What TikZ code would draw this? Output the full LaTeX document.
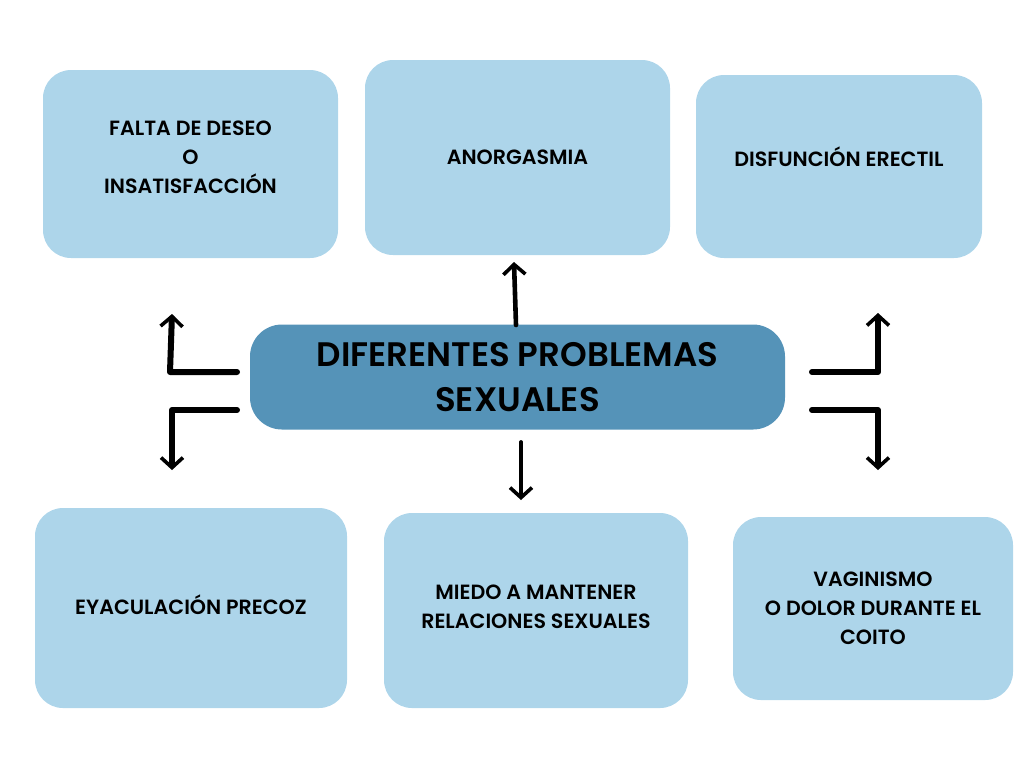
\documentclass[tikz,border=0pt]{standalone}
\usepackage{fontspec}
\IfFontExistsTF{Poppins SemiBold}{\setmainfont{Poppins SemiBold}}{%
  \IfFontExistsTF{Poppins Medium}{\setmainfont{Poppins Medium}}{\setmainfont{Poppins}}}
\usetikzlibrary{arrows.meta}
\definecolor{boxblue}{HTML}{ADD5EA}
\definecolor{midblue}{HTML}{5593B8}
\tikzset{
    smallbox/.style={rectangle, rounded corners=14pt, fill=boxblue, align=center,
        font=\fontsize{10.3}{14.5}\selectfont, inner sep=0pt},
    bigbox/.style={rectangle, rounded corners=16pt, fill=midblue, align=center,
        font=\fontsize{17}{22.5}\selectfont, inner sep=0pt,
        minimum width=267.5pt, minimum height=52.5pt},
    arr/.style={-{Straight Barb[length=5pt,width=11pt,line width=1.8pt]}, line width=3pt,
        line cap=round, line join=round}
}

\begin{document}
\begin{tikzpicture}[x=0.5pt, y=-0.5pt]

    \useasboundingbox (0,0) rectangle (1024,768);

    % Boxes
    \node[smallbox, minimum width=147.5pt, minimum height=94pt, text depth=7pt] (falta) at (190.5,164) {FALTA DE DESEO\\O\\INSATISFACCIÓN};
    \node[smallbox, minimum width=152.5pt, minimum height=97.5pt] (anorg) at (517.5,157.5) {ANORGASMIA};
    \node[smallbox, minimum width=143pt, minimum height=91.5pt, text depth=9.5pt] (disf) at (839,166.5) {DISFUNCIÓN ERECTIL};
    \node[bigbox] (centro) at (517.5,377) {DIFERENTES PROBLEMAS\\SEXUALES};
    \node[smallbox, minimum width=156pt, minimum height=100pt, text depth=3pt] (eyac) at (191,608) {EYACULACIÓN PRECOZ};
    \node[smallbox, minimum width=152pt, minimum height=97.5pt, text depth=4pt] (miedo) at (536,610.5) {MIEDO A MANTENER\\RELACIONES SEXUALES};
    \node[smallbox, minimum width=140pt, minimum height=91.5pt] (vagin) at (873,608.5) {VAGINISMO\\O DOLOR DURANTE EL\\COITO};

    % Arrow ends
    \coordinate (tu) at (516,325);
    \coordinate (tut) at (514,262);
    \coordinate (td) at (521,442);
    \coordinate (tdt) at (521,500);
    \coordinate (lu) at (237,372);
    \coordinate (lue) at (170,372);
    \coordinate (lut) at (172,314);
    \coordinate (ld) at (237,410);
    \coordinate (lde) at (172,410);
    \coordinate (ldt) at (172,470);
    \coordinate (ru) at (812,372);
    \coordinate (rue) at (878,372);
    \coordinate (rut) at (878,313);
    \coordinate (rd) at (812,410);
    \coordinate (rde) at (878,410);
    \coordinate (rdt) at (878,470);

    % Arrows
    \draw[arr, line width=2.3pt] (tu) -- (tut);
    \draw[arr, line width=1.9pt] (td) -- (tdt);
    \draw[arr] (lu) -- (lue) -- (lut);
    \draw[arr] (ld) -- (lde) -- (ldt);
    \draw[arr] (ru) -- (rue) -- (rut);
    \draw[arr] (rd) -- (rde) -- (rdt);

\end{tikzpicture}
\end{document}
